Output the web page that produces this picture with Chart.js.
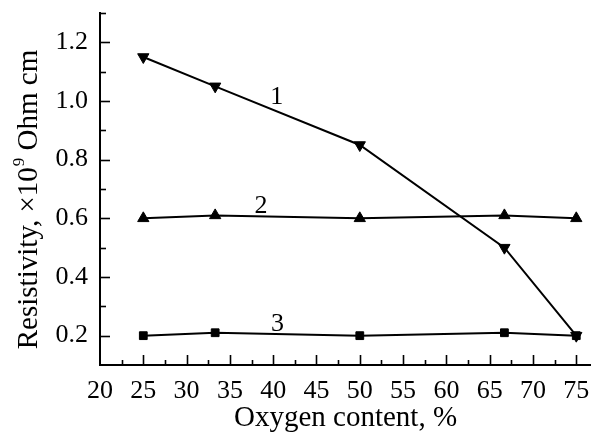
<!DOCTYPE html>
<html><head><meta charset="utf-8">
<script src="https://cdn.jsdelivr.net/npm/chart.js@4"></script>
<style>html,body{margin:0;padding:0;background:#fff}#wrap{width:591px;height:435px;position:relative}</style>
</head><body><div id="wrap"><canvas id="c"></canvas></div>
<script>
const oxygenContent = [25, 33.3, 50, 66.7, 75];
const series1 = [1.15, 1.05, 0.85, 0.50, 0.20];
const series2 = [0.60, 0.61, 0.60, 0.61, 0.60];
const series3 = [0.20, 0.21, 0.20, 0.21, 0.20];
const seriesNames = ['1', '2', '3'];
const labelAnchorX = [40.4, 38.6, 40.5];
const labelAnchorY = [1.013, 0.64, 0.24];
const xMajorTicks = [20, 25, 30, 35, 40, 45, 50, 55, 60, 65, 70, 75];
const xMinorTicks = [22.5, 27.5, 32.5, 37.5, 42.5, 47.5, 52.5, 57.5, 62.5, 67.5, 72.5];
const yMajorTicks = [0.2, 0.4, 0.6, 0.8, 1.0, 1.2];
const yMinorTicks = [0.3, 0.5, 0.7, 0.9, 1.1, 1.3];
const xTitle = 'Oxygen content, %';
const yTitleMain = 'Resistivity, \u00d710';
const yTitleSup = '9';
const yTitleTail = ' Ohm cm';

const FONT = '"Liberation Serif", "Times New Roman", serif';

function toPoints(ys) { return oxygenContent.map((x, i) => ({x: x, y: ys[i]})); }

const overlay = {
  id: 'overlay',
  afterDraw(chart) {
    const ctx = chart.ctx, xs = chart.scales.x, ys = chart.scales.y, a = chart.chartArea;
    ctx.save();
    ctx.strokeStyle = '#000';
    ctx.lineWidth = 1.6;
    const xt = (vals, len) => vals.forEach(v => {
      const px = Math.round(xs.getPixelForValue(v)) + 0.5;
      ctx.beginPath(); ctx.moveTo(px, a.bottom); ctx.lineTo(px, a.bottom - len); ctx.stroke();
    });
    const yt = (vals, len) => vals.forEach(v => {
      const py = Math.round(ys.getPixelForValue(v)) + 0.5;
      ctx.beginPath(); ctx.moveTo(a.left, py); ctx.lineTo(a.left + len, py); ctx.stroke();
    });
    xt(xMajorTicks.filter(v => v > 20), 10);
    xt(xMinorTicks, 5);
    yt(yMajorTicks, 10);
    yt(yMinorTicks, 6);

    // curve labels
    ctx.fillStyle = '#000';
    ctx.font = '26px ' + FONT;
    ctx.textAlign = 'center';
    ctx.textBaseline = 'middle';
    seriesNames.forEach((t, i) => {
      ctx.fillText(t, xs.getPixelForValue(labelAnchorX[i]), ys.getPixelForValue(labelAnchorY[i]));
    });

    // y title with superscript
    ctx.translate(37, 200);
    ctx.rotate(-Math.PI / 2);
    ctx.textAlign = 'left';
    ctx.textBaseline = 'alphabetic';
    const mainF = '29px ' + FONT, supF = '17px ' + FONT;
    ctx.font = mainF; const w1 = ctx.measureText(yTitleMain).width;
    const w3 = ctx.measureText(yTitleTail).width;
    ctx.font = supF; const w2 = ctx.measureText(yTitleSup).width;
    let x0 = -(w1 + w2 + w3) / 2;
    ctx.font = mainF; ctx.fillText(yTitleMain, x0, 0);
    ctx.font = supF; ctx.fillText(yTitleSup, x0 + w1 + 1, -13);
    ctx.font = mainF; ctx.fillText(yTitleTail, x0 + w1 + w2 + 1, 0);
    ctx.restore();
  }
};

const mk = (data, style, rot) => ({
  data: toPoints(data),
  borderColor: '#000', backgroundColor: '#000',
  borderWidth: 2, pointStyle: style, pointRotation: rot,
  pointRadius: style === 'rect' ? 5.5 : 6.5, pointHoverRadius: 6,
  pointBorderWidth: 1, tension: 0, clip: false
});

new Chart(document.getElementById('c'), {
  type: 'line',
  data: { datasets: [mk(series1, 'triangle', 180), mk(series2, 'triangle', 0), mk(series3, 'rect', 0)] },
  options: {
    responsive: true, maintainAspectRatio: false, animation: false,
    layout: { autoPadding: false, padding: { top: 13, right: 0, left: 0, bottom: 0 } },
    plugins: { legend: { display: false }, tooltip: { enabled: false } },
    scales: {
      x: {
        type: 'linear', min: 20, max: 76.7,
        afterBuildTicks: s => { s.ticks = xMajorTicks.map(v => ({value: v})); },
        afterFit: s => { s.height = 70; s.paddingLeft = 0; s.paddingRight = 0; },
        grid: { display: false, drawTicks: false },
        border: { display: true, color: '#000', width: 2 },
        ticks: { color: '#000', font: { family: FONT, size: 26 }, padding: 11, maxRotation: 0, autoSkip: false, callback: v => String(v) },
        title: { display: true, text: xTitle, color: '#000', font: { family: FONT, size: 29, lineHeight: 1 }, padding: { top: 0, bottom: 2 } }
      },
      y: {
        type: 'linear', min: 0.1, max: 1.3,
        afterBuildTicks: s => { s.ticks = yMajorTicks.map(v => ({value: v})); },
        afterFit: s => { s.width = 100; s.paddingTop = 0; s.paddingBottom = 0; },
        grid: { display: false, drawTicks: false },
        border: { display: true, color: '#000', width: 2 },
        ticks: { color: '#000', font: { family: FONT, size: 26, lineHeight: 1 }, padding: 12, callback: v => v.toFixed(1) }
      }
    }
  },
  plugins: [overlay]
});
</script></body></html>
